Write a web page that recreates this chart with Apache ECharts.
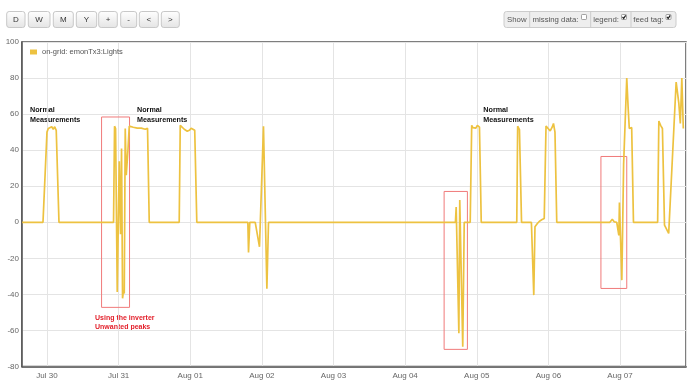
<!DOCTYPE html>
<html>
<head>
<meta charset="utf-8">
<script src="https://cdn.jsdelivr.net/npm/echarts@6/dist/echarts.min.js"></script>
<style>
html,body{margin:0;padding:0;background:#fff;}
#chart{width:690px;height:386px;}
</style>
</head>
<body>
<div id="chart"></div>
<script>
// ---- DATA ----
const seriesName = 'on-grid: emonTx3:Lights';
// hours after Jul 30 00:00
const hours = [
  -8.3, -1.34, 0, 0.44, 1.1, 1.6, 2.1, 2.6, 3.1, 3.55, 4.02,
  22.3, 22.64, 22.98, 23.54, 24.21, 24.65, 24.98, 25.32, 25.65, 25.89, 26.22, 26.56, 27.13, 27.56,
  28.23, 28.9, 29.57, 30.24, 30.9, 31.58, 32.25, 32.92, 33.69, 34.26,
  44.3, 44.65, 45.3, 46.0, 47.0, 47.7, 48.3, 48.9, 49.5, 50.2,
  67.3, 67.52, 67.95, 69.77, 70.1, 71.2, 72.54, 73.68, 74.22,
  136.85, 137.1, 138.0, 138.3, 139.3, 139.8,
  141.8, 142.3, 142.7, 143.2, 143.7, 144.2, 144.9, 145.5,
  157.4, 157.7, 158.3, 158.5, 159.0,
  162.3, 163.1, 163.5, 164.3, 165.0, 165.9, 166.6, 167.2, 167.9, 168.6, 169.3, 169.7, 170.2, 170.8,
  188.6, 189.4, 190.1, 190.9, 191.6, 191.8, 192.6, 193.2, 194.25, 194.7, 195.1, 195.6, 195.9, 196.5,
  204.6, 205.0, 205.6, 206.2, 206.9, 207.2, 208.3, 210.8, 211.7, 212.2, 212.7, 213.2
];
const lights = [
  0, 0, 50, 52, 51, 53, 51.5, 53, 51, 52, 0,
  0, 53.3, 52, -38.7, 33.9, -6.6, 40.9, -42.2, -37.6, -39.5, 52, 26.1, 40, 53.3,
  53.5, 52.7, 53.3, 52.2, 53, 52.2, 52.7, 51.6, 52.2, 0,
  0, 53.8, 52.7, 51.6, 50.5, 51, 52.2, 53, 51, 0,
  0, -16.7, 0, 0, 1, -13.6, 53.3, -36.9, 0,
  0, 8.5, -61.6, 12.3, -69.1, 0,
  0, 53.8, 52.5, 53.5, 52.2, 53.8, 52.8, 0,
  0, 53.3, 51.4, 50.5, 0,
  0, -40.4, -2.5, -0.7, 0.6, 1.5, 2.1, 53.4, 52, 50.7, 52.9, 54.8, 50, 0,
  0, 1.7, 0.2, 0, -7.2, 11, -32.1, 32.2, 80, 64, 52, 52.5, 52.5, 0,
  0, 56.2, 53.8, 52, -1.6, -0.7, -6.2, 77.8, 65.9, 54.8, 80, 52
];
// annotation boxes: [startHour, endHour] and [top value, bottom value]
const boxHours = [[18.29, 27.66], [133.06, 140.86], [185.6, 194.25]];
const boxValues = [[58.4, -47.2], [17.1, -70.5], [36.5, -36.7]];
const yTicks = [-80, -60, -40, -20, 0, 20, 40, 60, 80, 100];
const monthNames = ['Jan','Feb','Mar','Apr','May','Jun','Jul','Aug','Sep','Oct','Nov','Dec'];
const toolbarButtons = ['D','W','M','Y','+','-','<','>'];
const noteText = 'Normal\nMeasurements';
const inverterText = 'Using the inverter\nUnwanted peaks';

// ---- BUILD ----
const base = new Date(2017, 6, 30).getTime();
const H = 3600000;
const seriesData = hours.map((h, i) => [base + h * H, lights[i]]);
const xMin = base - 8.37 * H;
const xMax = base + 214.1 * H;

const FONT = 'Liberation Sans, Arial, sans-serif';

// toolbar layout
const btnX = [6.7, 28.3, 53.3, 76.3, 98.7, 120.7, 139.3, 161.3];
const btnW = [18.3, 21.7, 20, 20.4, 18.6, 16, 19, 18];
const graphics = [];
toolbarButtons.forEach((b, i) => {
  graphics.push({
    type: 'rect', silent: true,
    shape: { x: btnX[i], y: 11.5, width: btnW[i], height: 16, r: 2.5 },
    style: {
      fill: new echarts.graphic.LinearGradient(0, 0, 0, 1, [
        { offset: 0, color: '#ffffff' }, { offset: 1, color: '#e4e4e4' }]),
      stroke: '#c8c8c8', lineWidth: 1
    }
  });
  graphics.push({
    type: 'text', silent: true,
    style: { x: btnX[i] + btnW[i] / 2, y: 19.6, text: b, fill: '#333',
      font: '8px ' + FONT, textAlign: 'center', textVerticalAlign: 'middle' }
  });
});
// right option group
graphics.push({ type: 'rect', silent: true,
  shape: { x: 504, y: 11.5, width: 172, height: 16, r: 2.5 },
  style: { fill: '#eeeeee', stroke: '#cccccc', lineWidth: 1 } });
[529.7, 590.7, 631].forEach(x => graphics.push({ type: 'line', silent: true,
  shape: { x1: x, y1: 11.5, x2: x, y2: 27.5 }, style: { stroke: '#cccccc', lineWidth: 1 } }));
[['Show', 516.8, 'center'], ['missing data:', 532.5, 'left'], ['legend:', 593.3, 'left'], ['feed tag:', 633.3, 'left']]
  .forEach(t => graphics.push({ type: 'text', silent: true,
    style: { x: t[1], y: 19.6, text: t[0], fill: '#555', font: '7.8px ' + FONT,
      textAlign: t[2], textVerticalAlign: 'middle' } }));
[[581.5, false], [621.5, true], [666, true]].forEach(c => {
  graphics.push({ type: 'rect', silent: true,
    shape: { x: c[0], y: 14.5, width: 5, height: 5, r: 0.8 },
    style: { fill: '#fff', stroke: '#8a8a8a', lineWidth: 0.8 } });
  if (c[1]) graphics.push({ type: 'polyline', silent: true,
    shape: { points: [[c[0] + 1, 17], [c[0] + 2.2, 18.4], [c[0] + 4.2, 15.4]] },
    style: { stroke: '#222', lineWidth: 1.2, fill: null } });
});
// annotation texts
[[30, noteText], [137, noteText], [483.3, noteText]].forEach(n => graphics.push({
  type: 'text', silent: true,
  style: { x: n[0], y: 105.5, text: n[1], fill: '#111', font: 'bold 7.2px ' + FONT,
    lineHeight: 9.4, textVerticalAlign: 'top' } }));
graphics.push({ type: 'text', silent: true,
  style: { x: 95, y: 313, text: inverterText, fill: '#e3202b', font: 'bold 7px ' + FONT,
    lineHeight: 9.6, textVerticalAlign: 'top' } });

const chart = echarts.init(document.getElementById('chart'), null, { renderer: 'canvas' });
chart.setOption({
  animation: false,
  backgroundColor: '#fff',
  textStyle: { fontFamily: FONT },
  grid: { left: 22, right: 4, top: 42, bottom: 19.5, show: true,
    borderColor: '#545454', borderWidth: 1.5, backgroundColor: 'transparent' },
  legend: {
    show: true, left: 30, top: 48, orient: 'vertical', padding: 0,
    icon: 'rect', itemWidth: 7, itemHeight: 5,
    textStyle: { fontSize: 7.5, color: '#545454', fontFamily: FONT },
    data: [seriesName]
  },
  xAxis: {
    type: 'time', min: xMin, max: xMax,
    minInterval: 24 * H, maxInterval: 24 * H,
    axisLine: { show: true, onZero: false, lineStyle: { color: '#545454', width: 1.5 } },
    axisTick: { show: false },
    splitLine: { show: true, lineStyle: { color: '#e4e4e4', width: 1 } },
    axisLabel: {
      fontSize: 8, color: '#666', margin: 5, fontFamily: FONT,
      formatter: function (v) {
        const d = new Date(v);
        return monthNames[d.getMonth()] + ' ' + String(d.getDate()).padStart(2, '0');
      }
    }
  },
  yAxis: {
    type: 'value', min: yTicks[0], max: yTicks[yTicks.length - 1], interval: yTicks[1] - yTicks[0],
    axisLine: { show: true, onZero: false, lineStyle: { color: '#545454', width: 1.5 } },
    axisTick: { show: false },
    splitLine: { show: true, lineStyle: { color: '#e4e4e4', width: 1 } },
    axisLabel: { fontSize: 8, color: '#666', margin: 3, fontFamily: FONT }
  },
  series: [{
    name: seriesName, type: 'line', data: seriesData,
    showSymbol: false, symbol: 'none',
    color: '#edc240',
    lineStyle: { color: '#edc240', width: 1.7 },
    markArea: {
      silent: true,
      itemStyle: { color: 'rgba(0,0,0,0)', borderColor: '#f07a7a', borderWidth: 1 },
      data: boxHours.map((b, i) => [
        { xAxis: base + b[0] * H, yAxis: boxValues[i][0] },
        { xAxis: base + b[1] * H, yAxis: boxValues[i][1] }
      ])
    }
  }],
  graphic: graphics
});
</script>
</body>
</html>
